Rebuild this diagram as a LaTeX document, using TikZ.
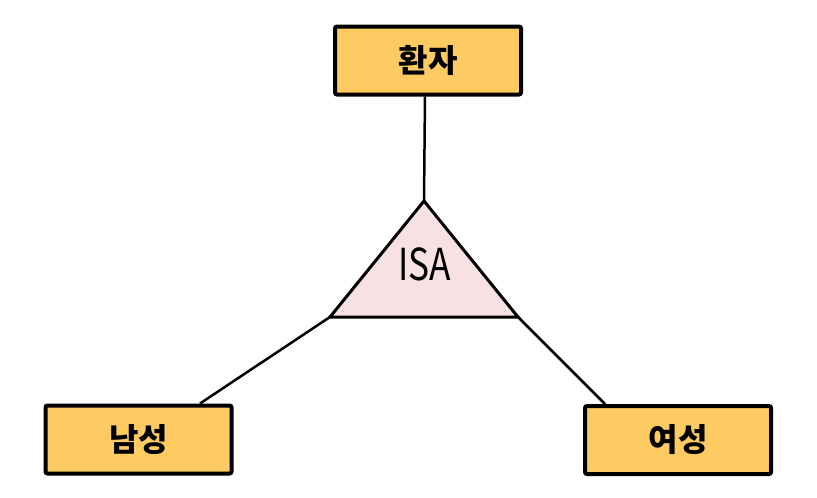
\documentclass[tikz,border=0pt]{standalone}
\usepackage{fontspec}
\newfontfamily\kr{Noto Sans CJK KR}
\definecolor{boxfill}{HTML}{FECB62}
\definecolor{trifill}{HTML}{F7E1E3}
\begin{document}
\begin{tikzpicture}[x=1pt,y=-1pt,
  entity/.style={draw=black,fill=boxfill,line width=4pt,rounded corners=2pt,
    minimum width=186pt,minimum height=68pt,inner sep=0pt,
    font=\kr\bfseries\fontsize{32}{32}\selectfont},
  link/.style={line width=2.5pt}]
\useasboundingbox (0,0) rectangle (817,498);
\node[entity] (top) at (428,60.5) {환자};
\node[entity] (male) at (138.5,439.5) {남성};
\node[entity] (female) at (678,440) {여성};
\coordinate (apex) at (424,201);
\coordinate (bl) at (330,317);
\coordinate (br) at (518,317);
\filldraw[fill=trifill,draw=black,line width=3pt,line join=miter] (apex) -- (bl) -- (br) -- cycle;
\node[font=\kr\fontsize{44}{44}\selectfont,xscale=0.8,inner sep=0pt] (isa) at (424.5,264) {ISA};
\draw[link] ([xshift=-3pt]top.south) -- (apex);
\draw[link] (bl) -- ([xshift=61.5pt]male.north);
\draw[link] (br) -- ([xshift=-73pt]female.north);
\end{tikzpicture}
\end{document}
